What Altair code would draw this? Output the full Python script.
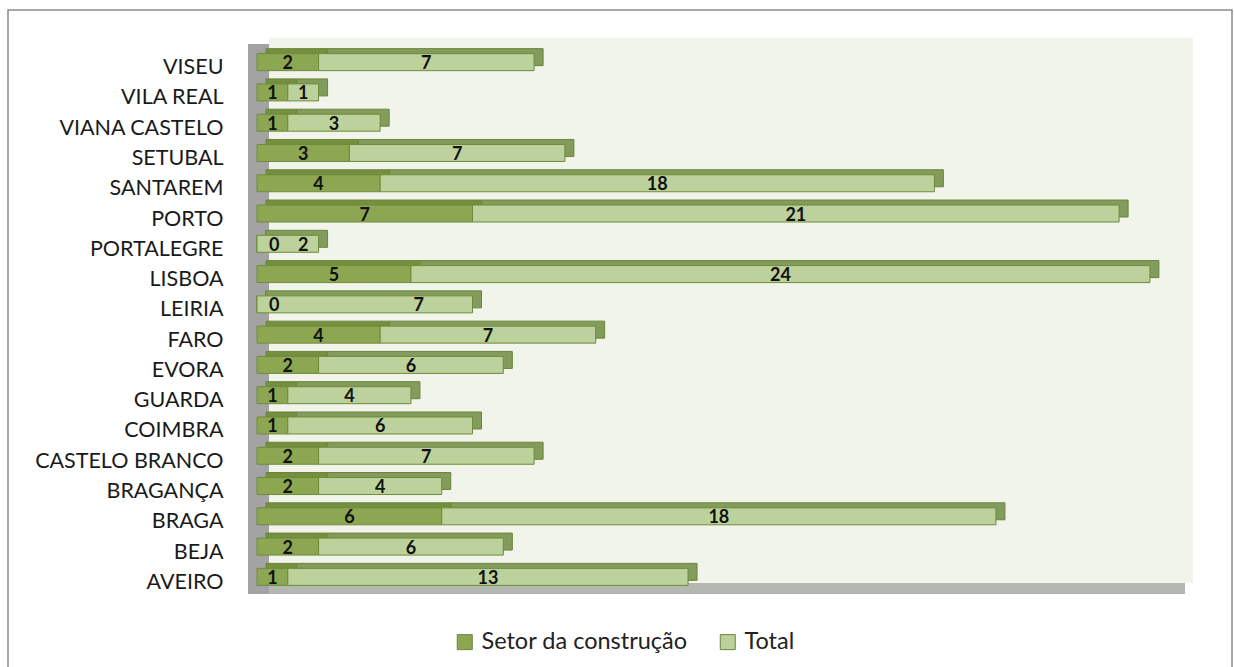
import altair as alt
import pandas as pd

categories = ["VISEU", "VILA REAL", "VIANA CASTELO", "SETUBAL", "SANTAREM", "PORTO",
              "PORTALEGRE", "LISBOA", "LEIRIA", "FARO", "EVORA", "GUARDA", "COIMBRA",
              "CASTELO BRANCO", "BRAGANÇA", "BRAGA", "BEJA", "AVEIRO"]
setor = [2, 1, 1, 3, 4, 7, 0, 5, 0, 4, 2, 1, 1, 2, 2, 6, 2, 1]
total = [7, 1, 3, 7, 18, 21, 2, 24, 7, 7, 6, 4, 6, 7, 4, 18, 6, 13]
series = ["Setor da construção", "Total"]

rows = []
for c, s, t in zip(categories, setor, total):
    rows.append(dict(cat=c, series=series[0], value=s, start=0, end=s, first_zero=False))
    rows.append(dict(cat=c, series=series[1], value=t, start=s, end=s + t, first_zero=(s == 0)))
df = pd.DataFrame(rows)
df["mid"] = (df["start"] + df["end"]) / 2
# Excel nudges the label to the right when the preceding segment is empty
df.loc[df["first_zero"], "mid"] = (df["mid"] + df["end"]) / 2

one = pd.DataFrame({"a": [0]})

W, H = 936, 545
FONT = "Lato"

y_enc = alt.Y("cat:N", sort=categories,
              scale=alt.Scale(paddingInner=0, paddingOuter=0),
              axis=alt.Axis(title=None, ticks=False, domain=False, labelFont=FONT,
                            labelFontSize=21.5, labelColor="#1a1a1a", labelPadding=34,
                            labelOffset=6, grid=False, labelLimit=0))
x_scale = alt.Scale(domain=[0, 30.4], nice=False, zero=True)

border = alt.Chart(one).mark_rect(fillOpacity=0, stroke="#8c8c8c", strokeWidth=1.5).encode(
    x=alt.value(-249), x2=alt.value(975), y=alt.value(-37), y2=alt.value(700))
panel = alt.Chart(one).mark_rect(color="#F1F4EB").encode(
    x=alt.value(12), x2=alt.value(W), y=alt.value(-9), y2=alt.value(536))
floor = alt.Chart(one).mark_rect(color="#B5B7B2").encode(
    x=alt.value(-9), x2=alt.value(W - 8), y=alt.value(536), y2=alt.value(547))
wall = alt.Chart(one).mark_rect(color="#A3A3A3").encode(
    x=alt.value(-9), x2=alt.value(12), y=alt.value(-3), y2=alt.value(547))

base = alt.Chart(df)

back = base.mark_bar(size=17, xOffset=9, x2Offset=9, yOffset=-5, y2Offset=-5,
                     stroke="#6B8538", strokeWidth=1).encode(
    x=alt.X("start:Q", scale=x_scale, axis=None),
    x2="end:Q",
    y=y_enc,
    fill=alt.condition(alt.datum.series == series[0], alt.value("#748F3F"), alt.value("#839B5C")),
)

front = base.mark_bar(size=17, stroke="#6E8B3A", strokeWidth=1).encode(
    x=alt.X("start:Q", scale=x_scale, axis=None),
    x2="end:Q",
    y=y_enc,
    color=alt.Color("series:N", scale=alt.Scale(domain=series, range=["#8CA652", "#BCD19B"]),
                    legend=alt.Legend(title=None, orient="none", legendX=196, legendY=583,
                                      direction="horizontal", symbolType="square",
                                      symbolSize=225, symbolStrokeColor="#6B8538",
                                      symbolStrokeWidth=1, symbolOpacity=1,
                                      labelFont=FONT, labelFontSize=23.5, labelColor="#222",
                                      columnPadding=28, labelOffset=5, labelLimit=0)),
)

labels = base.transform_filter(alt.datum.value > 0).mark_text(
    font=FONT, fontWeight="bold", fontSize=18, color="#111", dy=2).encode(
    x=alt.X("mid:Q", scale=x_scale, axis=None), y=y_enc, text="value:Q")

zero_labels = base.transform_filter(alt.datum.value == 0).mark_text(
    font=FONT, fontWeight="bold", fontSize=18, color="#111", dy=2, align="left", dx=12).encode(
    x=alt.X("start:Q", scale=x_scale, axis=None), y=y_enc, text="value:Q")

chart = alt.layer(border, panel, floor, wall, back, front, labels, zero_labels).properties(
    width=W, height=H, autosize="none",
    padding={"left": 257, "top": 47, "right": 41, "bottom": 75},
    background="white",
).configure_view(stroke=None)

chart.save("out.html", embed_options={"renderer": "svg", "actions": False})
